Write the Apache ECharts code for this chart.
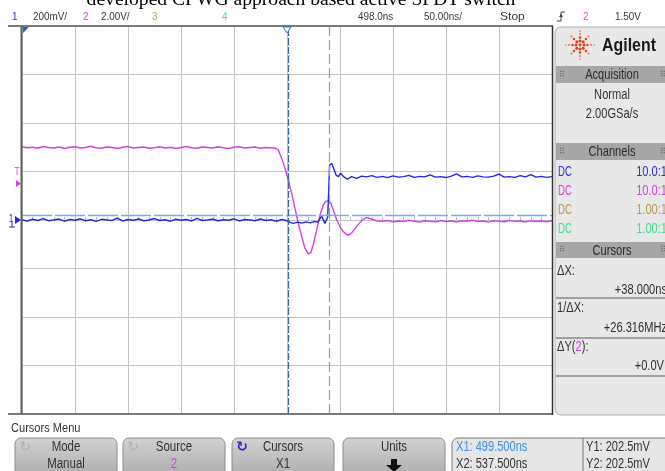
<!DOCTYPE html>
<html><head><meta charset="utf-8">
<script src="https://cdn.jsdelivr.net/npm/echarts@6/dist/echarts.min.js"></script>
<style>html,body{margin:0;padding:0;background:#fff}#c{width:665px;height:471px}</style>
</head><body><div id="c"></div>
<script>
// ---------------- data ----------------
const DELAY = 498;            // ns, horizontal reference at screen centre
const TIME_PER_DIV = 50;      // ns/div
const CH1_PER_DIV = 200;      // mV/div
const CH2_PER_DIV = 2;        // V/div
const X1 = 499.5, X2 = 537.5; // ns, time cursors
const Y_CURSOR = 0.2025;      // V on channel 2 (Y1 = Y2 = 202.5 mV)

// channel 1 (blue) : [time ns, mV]
const ch1Points = [
 [248,0],[253,-4],[258,3],[263,-2],[268,6],[273,-3],[278,0],[283,4],[288,-5],[293,2],
 [298,-1],[303,5],[308,-3],[313,1],[318,-6],[323,3],[328,0],[333,-2],[338,8],[343,-4],
 [348,2],[353,-1],[358,4],[363,-3],[368,0],[373,6],[378,-2],[383,1],[388,-5],[393,3],
 [398,-1],[403,2],[408,-4],[413,7],[418,-2],[423,0],[428,3],[433,-3],[438,1],[443,-1],
 [448,5],[453,-4],[458,2],[463,0],[468,-3],[473,4],[478,-2],[483,1],[488,-5],[493,2],[498,-3],
 [501,-10],[504,-14],[508,-9],[512,-13],[516,-8],[520,-12],[524,-6],[527,-9],[530.7,16],
 [533.8,-14],[536.4,11],[537.6,12],[538.2,227],[540.2,234],[542.3,209],[544.2,186],[546.4,178],
 [548.6,193],[551.1,180],[554.9,168],[559,179],[563.7,172],[568.5,181],
 [573,178],[578,183],[583,176],[588,180],[593,175],[598,182],[603,177],[608,179],[613,184],
 [618,176],[623,180],[628,178],[633,186],[638,177],[643,179],[648,175],[653,181],[658,190],
 [663,178],[668,180],[673,176],[678,182],[683,178],[688,177],[693,181],[698,189],[703,177],
 [708,179],[713,176],[718,183],[723,178],[728,187],[733,177],[738,180],[743,176],[748,179]
];

// channel 2 (magenta) : [time ns, V]
const ch2Points = [
 [248,3.02],[253,2.98],[258,3.00],[263,2.96],[268,3.03],[273,2.99],[278,2.97],[283,3.01],
 [288,2.95],[293,3.00],[298,3.02],[303,2.97],[308,2.99],[313,3.04],[318,2.98],[323,2.96],
 [328,3.01],[333,2.99],[338,2.95],[343,3.00],[348,3.03],[353,2.97],[358,2.99],[363,3.01],
 [368,2.96],[373,2.98],[378,3.02],[383,2.97],[388,3.00],[393,2.95],[398,2.99],[403,3.03],
 [408,2.98],[413,2.96],[418,3.01],[423,2.99],[428,2.97],[433,3.02],[438,2.98],[443,2.95],
 [448,3.00],[453,3.02],[458,2.97],[463,2.99],[468,3.01],[473,2.96],[478,2.99],[483,2.98],
 [486.7,2.96],[489.8,2.89],[493.0,2.54],[496.1,2.13],[499.2,1.65],[502.4,1.10],[505.5,0.48],
 [508.7,-0.14],[511.9,-0.69],[515.0,-1.17],[518.1,-1.40],[520.4,-1.35],[522.8,-1.03],
 [526.0,-0.41],[529.1,0.21],[532.3,0.62],[534.8,0.78],[537.3,0.78],[539.2,0.71],[541.7,0.41],
 [544.9,0.00],[548.0,-0.28],[551.1,-0.48],[554.9,-0.62],[558.1,-0.58],[561.2,-0.41],
 [565.3,-0.18],[569.9,0.03],[573.1,0.11],[577.9,0.03],[582.6,-0.03],
 [588,-0.05],[593,-0.02],[598,-0.08],[603,-0.04],[608,-0.06],[613,-0.01],[618,-0.05],
 [623,-0.09],[628,-0.03],[633,-0.05],[638,-0.07],[643,-0.02],[648,-0.06],[653,-0.04],
 [658,-0.08],[663,-0.03],[668,-0.05],[673,-0.01],[678,-0.06],[683,-0.04],[688,-0.09],
 [693,-0.03],[698,-0.05],[703,-0.07],[708,-0.02],[713,-0.05],[718,-0.04],[723,-0.08],
 [728,-0.03],[733,-0.06],[738,-0.04],[743,-0.07],[748,-0.03]
];

// status / panel texts
const channelRows = [
  {coupling:'DC', ratio:'10.0:1', color:'#2b2bdc'},
  {coupling:'DC', ratio:'10.0:1', color:'#d83fe0'},
  {coupling:'DC', ratio:'1.00:1', color:'#b89a50'},
  {coupling:'DC', ratio:'1.00:1', color:'#40e090'}
];
const buttons = [
  {top:'Mode', bottom:'Manual', icon:true, iconColor:'#b0b0b0', bottomColor:'#333'},
  {top:'Source', bottom:'2', icon:true, iconColor:'#b0b0b0', bottomColor:'#d83fe0'},
  {top:'Cursors', bottom:'X1', icon:true, iconColor:'#2a2ad0', bottomColor:'#333'},
  {top:'Units', bottom:'', icon:false, arrow:true}
];

// ---------------- drawing ----------------
const MAG = '#d43fe6', BLUE = '#2626dc';
const SANS = '"Liberation Sans",Arial,sans-serif';
const G = [];
function txt(x, y, text, o) {
  o = o || {};
  const fam = o.family || SANS;
  const sx = o.sx != null ? o.sx : (o.family ? 1 : 0.82);
  const st = { text: text, fill: o.color || '#303030',
    font: (o.weight ? o.weight + ' ' : '') + (o.size || 13.5) + 'px ' + fam,
    align: o.align || 'left', verticalAlign: 'middle', textAlign: o.align || 'left', textVerticalAlign: 'middle' };
  if (o.rich) st.rich = o.rich;
  G.push({ type: 'text', x: x, y: y, scaleX: sx, scaleY: 1, z: o.z || 20, silent: true, style: st });
}
function rect(x, y, w, h, fill, o) {
  o = o || {};
  G.push({ type: 'rect', z: o.z || 10, silent: true, shape: { x: x, y: y, width: w, height: h, r: o.r || 0 },
    style: { fill: fill, stroke: o.stroke || null, lineWidth: o.lw || 1 } });
}
function line(x1, y1, x2, y2, color, w, z) {
  G.push({ type: 'line', z: z || 15, silent: true, shape: { x1: x1, y1: y1, x2: x2, y2: y2 },
    style: { stroke: color, lineWidth: w || 1 } });
}
function poly(points, fill, stroke, z) {
  G.push({ type: 'polygon', z: z || 15, silent: true, shape: { points: points },
    style: { fill: fill || null, stroke: stroke || null, lineWidth: 1 } });
}

// title (clipped at top of picture)
txt(301, 0, 'developed CPWG approach based active SPDT switch', { family: '"Liberation Serif","Times New Roman",serif', size: 19.6, color: '#000', align: 'center' });

// status bar
const SY = 16.5, SS = 11.5, SX = 0.86;
txt(12, SY, '1', { size: SS, sx: SX, color: BLUE });
txt(33, SY, '200mV/', { size: SS, sx: SX, color: '#383838' });
txt(83, SY, '2', { size: SS, sx: SX, color: MAG });
txt(101, SY, '2.00V/', { size: SS, sx: SX, color: '#383838' });
txt(152, SY, '3', { size: SS, sx: SX, color: '#c4a060' });
txt(222, SY, '4', { size: SS, sx: SX, color: '#40e090' });
txt(358, SY, '498.0ns', { size: SS, sx: SX, color: '#383838' });
txt(424, SY, '50.00ns/', { size: SS, sx: SX, color: '#383838' });
txt(500, SY, 'Stop', { size: SS, sx: 1.05, color: '#383838' });
G.push({ type: 'polyline', z: 20, silent: true, shape: { points: [[557, 21], [561, 21], [561, 12], [565, 12]] }, style: { stroke: '#404040', lineWidth: 1, fill: null } });
poly([[559, 17], [563, 17], [561, 14]], '#404040', null, 20);
txt(583, SY, '2', { size: SS, sx: SX, color: MAG });
txt(615, SY, '1.50V', { size: SS, sx: SX, color: '#383838' });

// plot frame
line(8, 26, 553, 26, '#7a7a7a', 2, 30);
line(8, 414, 553, 414, '#7a7a7a', 2, 30);
line(21.5, 26, 21.5, 414, '#606060', 2, 30);
line(552.5, 26, 552.5, 415, '#303030', 1.5, 30);
// markers at top
poly([[23, 27], [29, 27], [23, 33]], '#1a62d8', null, 31);
poly([[283, 27], [291, 27], [287, 33]], '#ffffff', '#2f78e0', 31);
// left side channel / trigger markers
txt(17, 172, 'T', { size: 10, color: MAG, align: 'center', z: 31 });
poly([[16, 180], [21, 183.5], [16, 187]], MAG, null, 31);
txt(11, 219, '1', { size: 10, color: BLUE, align: 'center', z: 31 });
line(9, 227, 15, 227, BLUE, 1, 31);
line(12, 222, 12, 227, BLUE, 1, 31);
poly([[15, 216], [21, 220], [15, 224]], BLUE, null, 31);

// right panel
const PS = 15, PX = 0.74;   // panel font size / horizontal squeeze
rect(555, 27, 120, 388, '#e8e8e8', { r: 6, stroke: '#b0b0b0', z: 5 });
// logo
const LX = 580, LY = 45;
const rays = [0, 45, 90, 135, 180, 225, 270, 315];
rays.forEach(function (a, i) {
  const rad = a * Math.PI / 180;
  const steps = (i % 2 === 0) ? [4, 7.5, 11, 14] : [4.5, 8.5, 12];
  steps.forEach(function (r, k) {
    G.push({ type: 'circle', z: 12, silent: true, shape: { cx: LX + r * Math.cos(rad), cy: LY + r * Math.sin(rad), r: 1.5 - k * 0.22 },
      style: { fill: k < 2 ? '#e2401c' : '#f07a50' } });
  });
});
G.push({ type: 'circle', z: 12, silent: true, shape: { cx: LX, cy: LY, r: 1.4 }, style: { fill: '#e2401c' } });
txt(602, 46, 'Agilent', { weight: 'bold', size: 17.5, sx: 0.91, color: '#1a1a1a' });

function header(y1, y2, label) {
  rect(556, y1, 112, y2 - y1, '#a6a6a6', { z: 11 });
  txt(612, (y1 + y2) / 2 + 0.5, label, { size: PS, sx: PX, color: '#2a2a2a', align: 'center' });
  txt(559, (y1 + y2) / 2, '⠿', { size: 8, color: '#6a6a6a', family: '"DejaVu Sans",sans-serif' });
  txt(660, (y1 + y2) / 2, '⠿', { size: 8, color: '#6a6a6a', family: '"DejaVu Sans",sans-serif' });
}
header(66, 83, 'Acquisition');
txt(612, 95, 'Normal', { size: PS, sx: PX, align: 'center', color: '#333' });
txt(612, 114, '2.00GSa/s', { size: PS, sx: PX, align: 'center', color: '#333' });
header(143, 160, 'Channels');
channelRows.forEach(function (row, i) {
  const y = 172 + i * 19;
  txt(558, y, row.coupling, { size: PS, color: row.color, sx: 0.64 });
  txt(667, y, row.ratio, { size: PS, sx: PX, color: row.color, align: 'right' });
});
header(242, 258, 'Cursors');
txt(557, 271, 'ΔX:', { size: PS, sx: PX });
txt(667, 290, '+38.000ns', { size: PS, sx: PX, align: 'right' });
line(556, 298, 665, 298, '#a0a0a0', 2);
txt(557, 308, '1/ΔX:', { size: PS, sx: PX });
txt(667, 328, '+26.316MHz', { size: PS, sx: PX, align: 'right' });
line(556, 338, 665, 338, '#a0a0a0', 2);
txt(557, 347, 'ΔY({m|2}):', { size: PS, sx: PX, rich: { m: { fill: MAG, font: PS + 'px ' + SANS } } });
txt(664, 366, '+0.0V', { size: PS, sx: PX, align: 'right' });
line(556, 376, 665, 376, '#a0a0a0', 2);

// bottom menu
txt(11, 428, 'Cursors Menu', { color: '#333' });
const btnX = [15, 123, 232, 343];
buttons.forEach(function (b, i) {
  const x = btnX[i], w = 102, cx = x + w / 2;
  G.push({ type: 'rect', z: 10, silent: true, shape: { x: x, y: 438, width: w, height: 40, r: [6, 6, 0, 0] },
    style: { fill: { type: 'linear', x: 0, y: 0, x2: 0, y2: 1, colorStops: [{ offset: 0, color: '#d2d2d2' }, { offset: 1, color: '#ababab' }] },
      stroke: '#8c8c8c', lineWidth: 1 } });
  txt(cx, 447, b.top, { size: 14, align: 'center', color: '#303030' });
  if (b.bottom) txt(cx, 464, b.bottom, { size: 14, align: 'center', color: b.bottomColor });
  if (b.icon) txt(x + 10, 447, '↻', { size: 14, color: b.iconColor, family: '"DejaVu Sans",sans-serif', weight: i === 2 ? 'bold' : 'normal', align: 'center' });
  if (b.arrow) poly([[cx - 3, 459], [cx + 3, 459], [cx + 3, 465], [cx + 8, 465], [cx, 472], [cx - 8, 465], [cx - 3, 465]], '#111', null, 20);
});
G.push({ type: 'rect', z: 10, silent: true, shape: { x: 452, y: 438, width: 220, height: 40, r: [6, 0, 0, 0] }, style: { fill: '#e6e6e6', stroke: '#7a7a7a', lineWidth: 1 } });
line(583, 438, 583, 471, '#7a7a7a', 1);
txt(456, 447, 'X1: ' + X1.toFixed(3) + 'ns', { size: 14, sx: 0.79, color: '#3c8ee8' });
txt(456, 464, 'X2: ' + X2.toFixed(3) + 'ns', { size: 14, sx: 0.79, color: '#333' });
txt(586, 447, 'Y1: ' + (Y_CURSOR * 1000).toFixed(1) + 'mV', { size: 14, sx: 0.79, color: '#333' });
txt(586, 464, 'Y2: ' + (Y_CURSOR * 1000).toFixed(1) + 'mV', { size: 14, sx: 0.79, color: '#333' });

// ---------------- chart ----------------
const chart = echarts.init(document.getElementById('c'), null, { renderer: 'canvas' });
const rel = function (p) { return [p[0] - DELAY, p[1]]; };
chart.setOption({
  animation: false,
  backgroundColor: '#ffffff',
  grid: { left: 22, top: 26, width: 530, height: 388, show: false },
  xAxis: {
    type: 'value', min: -5 * TIME_PER_DIV, max: 5 * TIME_PER_DIV, interval: TIME_PER_DIV,
    axisLabel: { show: false },
    axisLine: { show: true, onZero: true, lineStyle: { color: '#c4c4c4', width: 1 } },
    axisTick: { show: true, inside: true, length: 4, lineStyle: { color: '#b8b8b8' } },
    minorTick: { show: true, splitNumber: 5, length: 3, lineStyle: { color: '#b8b8b8' } },
    splitLine: { show: true, lineStyle: { color: '#c4c4c4', width: 1 } }
  },
  yAxis: [
    { type: 'value', min: -4 * CH1_PER_DIV, max: 4 * CH1_PER_DIV, interval: CH1_PER_DIV,
      axisLabel: { show: false },
      axisLine: { show: true, onZero: true, lineStyle: { color: '#c4c4c4', width: 1 } },
      axisTick: { show: true, inside: true, length: 4, lineStyle: { color: '#b8b8b8' } },
      minorTick: { show: true, splitNumber: 5, length: 3, lineStyle: { color: '#b8b8b8' } },
      splitLine: { show: true, lineStyle: { color: '#c4c4c4', width: 1 } } },
    { type: 'value', min: -4 * CH2_PER_DIV, max: 4 * CH2_PER_DIV, interval: CH2_PER_DIV, show: false,
      splitLine: { show: false } }
  ],
  series: [
    { type: 'line', name: 'Channel 2', yAxisIndex: 1, data: ch2Points.map(rel), symbol: 'none', z: 3,
      lineStyle: { color: MAG, width: 1.4 },
      markLine: { silent: true, symbol: 'none', label: { show: false }, animation: false,
        data: [{ yAxis: Y_CURSOR }], lineStyle: { color: '#6cb2f2', type: [30, 3], width: 1.3 } } },
    { type: 'line', name: 'Channel 1', yAxisIndex: 0, data: ch1Points.map(rel), symbol: 'none', z: 4,
      lineStyle: { color: BLUE, width: 1.4 },
      markLine: { silent: true, symbol: 'none', label: { show: false }, animation: false,
        data: [
          { xAxis: X1 - DELAY, lineStyle: { color: '#3a68a6', type: [7, 2], width: 1.2 } },
          { xAxis: X2 - DELAY, lineStyle: { color: '#5aaaf0', type: [10, 4], width: 1.2 } }
        ] } }
  ],
  graphic: { elements: G }
});
</script></body></html>
